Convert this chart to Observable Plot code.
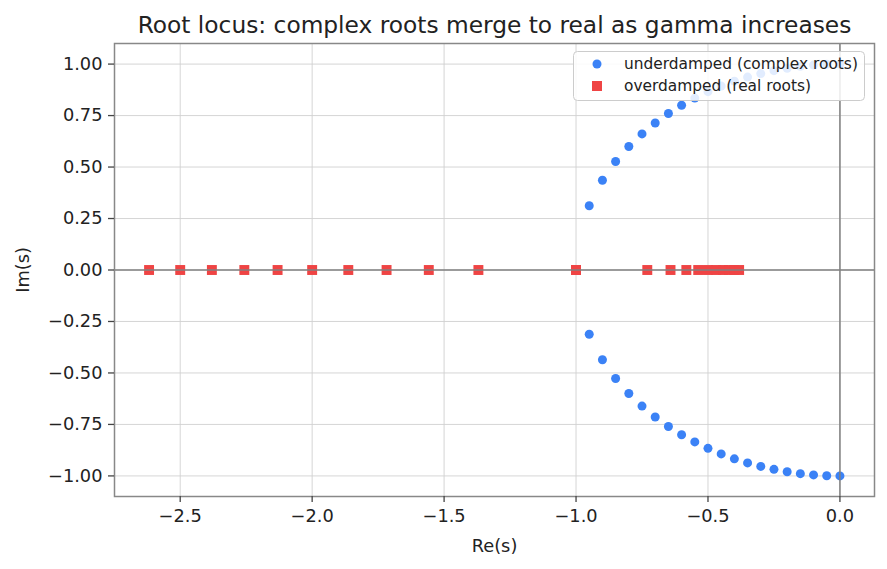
<!DOCTYPE html>
<html>
<head>
<meta charset="utf-8">
<script src="https://cdn.jsdelivr.net/npm/d3@7"></script>
<script src="https://cdn.jsdelivr.net/npm/@observablehq/plot@0.6"></script>
<style>
  html, body { margin: 0; padding: 0; background: white; }
</style>
</head>
<body>
<div id="chart"></div>
<script>
const title = "Root locus: complex roots merge to real as gamma increases";
const xLabel = "Re(s)";
const yLabel = "Im(s)";
const legendLabels = ["underdamped (complex roots)", "overdamped (real roots)"];
const xTicks = [-2.5, -2.0, -1.5, -1.0, -0.5, 0.0];
const yTicks = [-1.0, -0.75, -0.5, -0.25, 0.0, 0.25, 0.5, 0.75, 1.0];

// underdamped: complex roots (real part, imaginary part upper / lower)
const cplxRe = [0, -0.05, -0.10, -0.15, -0.20, -0.25, -0.30, -0.35, -0.40, -0.45,
                -0.50, -0.55, -0.60, -0.65, -0.70, -0.75, -0.80, -0.85, -0.90, -0.95];
const cplxImUpper = [1.000, 0.999, 0.995, 0.989, 0.980, 0.968, 0.954, 0.937, 0.917, 0.893,
                     0.866, 0.835, 0.800, 0.760, 0.714, 0.661, 0.600, 0.527, 0.436, 0.312];
const cplxImLower = [-1.000, -0.999, -0.995, -0.989, -0.980, -0.968, -0.954, -0.937, -0.917, -0.893,
                     -0.866, -0.835, -0.800, -0.760, -0.714, -0.661, -0.600, -0.527, -0.436, -0.312];

// overdamped: real roots
const realRoots = [-1.000, -1.000, -0.730, -1.370, -0.642, -1.558, -0.582, -1.718, -0.537, -1.863,
                   -0.500, -2.000, -0.469, -2.131, -0.443, -2.257, -0.420, -2.380, -0.400, -2.500,
                   -0.382, -2.618];

const blue = "#3b82f6", red = "#ef4444";

const upper = cplxRe.map((x, i) => ({x, y: cplxImUpper[i]}));
const lower = cplxRe.map((x, i) => ({x, y: cplxImLower[i]}));
const real = realRoots.map(x => ({x, y: 0}));

const chart = Plot.plot({
  width: 887, height: 569,
  marginLeft: 114, marginRight: 13, marginTop: 43, marginBottom: 73,
  style: {fontFamily: "DejaVu Sans, sans-serif", fontSize: "17.8px", color: "#222", background: "white"},
  x: {domain: [-2.749, 0.131], label: null},
  y: {domain: [-1.1, 1.1], label: null},
  marks: [
    Plot.gridX(xTicks, {stroke: "#d0d0d0", strokeOpacity: 1, strokeWidth: 0.9}),
    Plot.gridY(yTicks, {stroke: "#d0d0d0", strokeOpacity: 1, strokeWidth: 0.9}),
    Plot.dot(upper, {x: "x", y: "y", r: 4.5, fill: blue, stroke: "none"}),
    Plot.dot(lower, {x: "x", y: "y", r: 4.5, fill: blue, stroke: "none"}),
    Plot.dot(real, {x: "x", y: "y", r: 5.6, symbol: "square", fill: red, stroke: "none"}),
    Plot.ruleY([0], {stroke: "#808080", strokeWidth: 1.5}),
    Plot.ruleX([0], {stroke: "#808080", strokeWidth: 1.5}),
    Plot.frame({stroke: "#888888", strokeWidth: 1.5}),
    Plot.axisX(xTicks, {tickFormat: d3.format(".1f"), tickSize: 6, tickPadding: 7, stroke: "#444", strokeWidth: 1.3, fill: "#222"}),
    Plot.axisY(yTicks, {tickFormat: d3.format(".2f"), tickSize: 6, tickPadding: 6, stroke: "#444", strokeWidth: 1.3, fill: "#222"}),
    Plot.text([title], {frameAnchor: "top", lineAnchor: "middle", dy: -18.2, fontSize: 23.3, fill: "#222"}),
    Plot.text([xLabel], {frameAnchor: "bottom", lineAnchor: "middle", dy: 50, fontSize: 17.8, fill: "#222"}),
    Plot.text([yLabel], {frameAnchor: "left", textAnchor: "middle", lineAnchor: "middle", dx: -91, rotate: -90, fontSize: 17.8, fill: "#222"})
  ]
});

// legend box (matplotlib-style, upper right, semi-transparent)
const lg = d3.select(chart).append("g").attr("transform", "translate(573.5,51.5)");
lg.append("rect").attr("width", 291).attr("height", 49).attr("rx", 4)
  .attr("fill", "white").attr("fill-opacity", 0.85).attr("stroke", "#cccccc").attr("stroke-width", 1);
lg.append("circle").attr("cx", 23.5).attr("cy", 12.5).attr("r", 4.5).attr("fill", blue);
lg.append("rect").attr("x", 18.5).attr("y", 29.5).attr("width", 10).attr("height", 10).attr("fill", red);
lg.selectAll("text.lbl").data(legendLabels).join("text")
  .attr("x", 50.5).attr("y", (d, i) => 12.5 + i * 22).attr("dy", "0.35em")
  .attr("text-anchor", "start")
  .attr("font-size", 15.4).attr("fill", "#222").text(d => d);

document.getElementById("chart").appendChild(chart);
</script>
</body>
</html>
